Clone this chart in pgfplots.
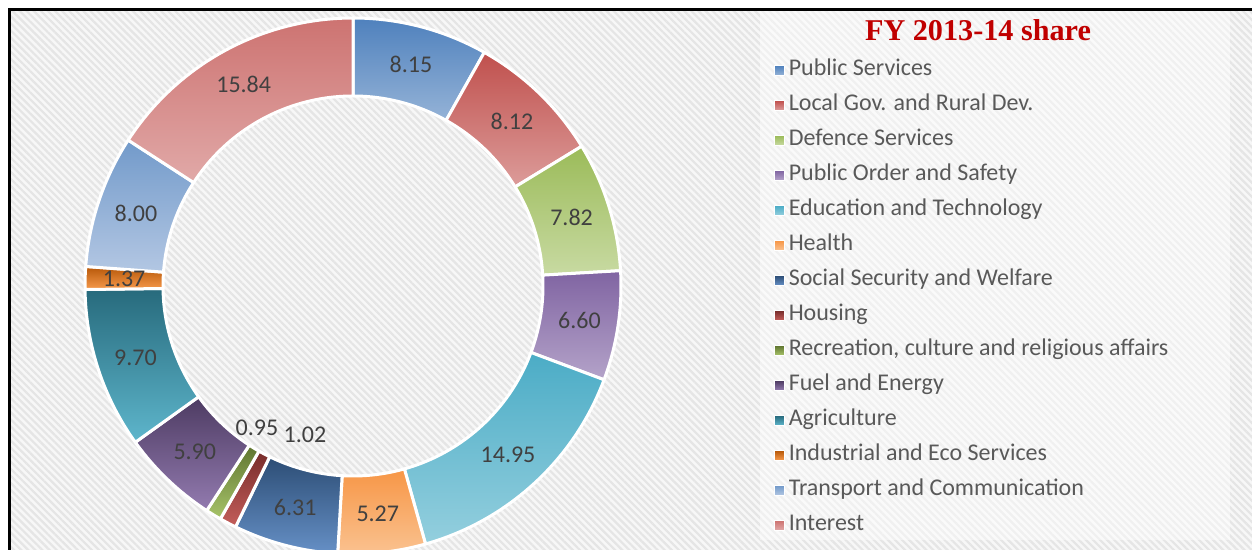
\documentclass[border=0pt]{standalone}
\usepackage{fontspec}
\setmainfont{Carlito}
\newfontfamily\titlefont{Liberation Serif}
\usepackage{pgfplots}
\pgfplotsset{compat=1.18}
\usepackage{pgfplotstable}
\usetikzlibrary{patterns.meta}

% colours: top (ct) and bottom (cb) of each slice gradient
\definecolor{ct0}{HTML}{4F81BD}\definecolor{cb0}{HTML}{95B3D7}
\definecolor{ct1}{HTML}{C0504D}\definecolor{cb1}{HTML}{DC9C9A}
\definecolor{ct2}{HTML}{9BBB59}\definecolor{cb2}{HTML}{C8DAA2}
\definecolor{ct3}{HTML}{8064A2}\definecolor{cb3}{HTML}{B4A3C9}
\definecolor{ct4}{HTML}{4BACC6}\definecolor{cb4}{HTML}{94CFDE}
\definecolor{ct5}{HTML}{F79646}\definecolor{cb5}{HTML}{FAC290}
\definecolor{ct6}{HTML}{2C4D75}\definecolor{cb6}{HTML}{6690C6}
\definecolor{ct7}{HTML}{772C2A}\definecolor{cb7}{HTML}{C45E5B}
\definecolor{ct8}{HTML}{5F7530}\definecolor{cb8}{HTML}{A8C46A}
\definecolor{ct9}{HTML}{4D3B62}\definecolor{cb9}{HTML}{937BB0}
\definecolor{ct10}{HTML}{276A7C}\definecolor{cb10}{HTML}{5EB6CC}
\definecolor{ct11}{HTML}{B65708}\definecolor{cb11}{HTML}{F79A4C}
\definecolor{ct12}{HTML}{729ACA}\definecolor{cb12}{HTML}{B3C7E3}
\definecolor{ct13}{HTML}{CD7371}\definecolor{cb13}{HTML}{E1A9A8}
\definecolor{labgray}{HTML}{404040}
\definecolor{leggray}{HTML}{595959}
\definecolor{titlered}{HTML}{C00000}

\pgfplotstableread[col sep=semicolon]{
name;value;labr;labshift
Public Services;8.15;229;0
Local Gov. and Rural Dev.;8.12;229;0
Defence Services;7.82;229;0
Public Order and Safety;6.60;229;0
Education and Technology;14.95;229;0
Health;5.27;229;0
Social Security and Welfare;6.31;229;0
Housing;1.02;156;9.9
Recreation, culture and religious affairs;0.95;171;-2.8
Fuel and Energy;5.90;229;0
Agriculture;9.70;229;0
Industrial and Eco Services;1.37;229;0
Transport and Communication;8.00;229;0
Interest;15.84;229;0
}\budget

% start / end angles of each slice from the cumulative shares (clockwise from 12 o'clock)
\xdef\cumsum{0}
\pgfplotsforeachungrouped \i in {0,...,13}{%
  \pgfplotstablegetelem{\i}{value}\of\budget \let\v\pgfplotsretval
  \expandafter\xdef\csname vs\i\endcsname{\v}%
  \pgfplotstablegetelem{\i}{name}\of\budget
  \expandafter\xdef\csname nm\i\endcsname{\pgfplotsretval}%
  \pgfplotstablegetelem{\i}{labr}\of\budget
  \expandafter\xdef\csname lr\i\endcsname{\pgfplotsretval}%
  \pgfplotstablegetelem{\i}{labshift}\of\budget
  \expandafter\xdef\csname ls\i\endcsname{\pgfplotsretval}%
  \pgfmathsetmacro\aS{90-3.6*\cumsum}%
  \pgfmathsetmacro\newcum{\cumsum+\v}%
  \pgfmathsetmacro\aE{90-3.6*\newcum}%
  \expandafter\xdef\csname aS\i\endcsname{\aS}%
  \expandafter\xdef\csname aE\i\endcsname{\aE}%
  \xdef\cumsum{\newcum}%
}

\pgfmathdeclarefunction{cl}{1}{\pgfmathparse{min(max(#1,0),1)}}

\begin{document}
\begin{tikzpicture}
\begin{axis}[
  at={(0,0)}, anchor=south west,
  scale only axis, width=626pt, height=275pt,
  xmin=0, xmax=1252, ymin=0, ymax=550,
  hide axis, clip=true,
  legend style={at={(0.6134,0.898)}, anchor=north west, draw=none, fill=none,
    font=\fontsize{12}{14}\selectfont, text=leggray,
    row sep=7.5pt, nodes={inner ysep=0pt, text height=7.5pt, text depth=2.5pt}},
  legend cell align=left,
]
% background
\fill[white] (axis cs:0,0) rectangle (axis cs:1252,550);
\fill[black!3] (axis cs:10,0) rectangle (axis cs:1252,540);
\fill[pattern={Lines[angle=-45,distance=2.5pt,line width=1.1pt]}, pattern color=black!10]
  (axis cs:10,0) rectangle (axis cs:1252,540);
\fill[white, opacity=0.45] (axis cs:760,10) rectangle (axis cs:1230,539);
\draw[black, line width=1.4pt] (axis cs:9.7,0) -- (axis cs:9.7,540.3) -- (axis cs:1252,540.3);

% slices
\pgfplotsinvokeforeach{0,...,13}{%
  \addplot[draw=white, line width=1.5pt, line join=round,
    top color=ct#1, bottom color=cb#1,
    domain=0:4, samples=161, variable=\t,
    legend image code/.code={\path[draw=white,line width=0.4pt,top color=ct#1,bottom color=cb#1] (0pt,-2.4pt) rectangle (4.8pt,2.4pt);}]
   ({353 + (268 - 78*cl(\t-1) + 78*cl(\t-3))*cos(\csname aS#1\endcsname + (\csname aE#1\endcsname-\csname aS#1\endcsname)*cl(\t) - (\csname aE#1\endcsname-\csname aS#1\endcsname)*cl(\t-2))},
    {264 + (268 - 78*cl(\t-1) + 78*cl(\t-3))*sin(\csname aS#1\endcsname + (\csname aE#1\endcsname-\csname aS#1\endcsname)*cl(\t) - (\csname aE#1\endcsname-\csname aS#1\endcsname)*cl(\t-2))});
  \addlegendentry{\csname nm#1\endcsname}
}
% value labels
\pgfplotsinvokeforeach{0,...,13}{%
  \addplot[forget plot, draw=none, mark=none, samples at={0}, variable=\t,
    nodes near coords={\csname vs#1\endcsname},
    nodes near coords align=center,
    every node near coord/.append style={anchor=center, text=labgray, font=\fontsize{12}{14}\selectfont, inner sep=0pt}]
   ({353 + \csname lr#1\endcsname*cos((\csname aS#1\endcsname+\csname aE#1\endcsname)/2 + \csname ls#1\endcsname)},
    {264 + \csname lr#1\endcsname*sin((\csname aS#1\endcsname+\csname aE#1\endcsname)/2 + \csname ls#1\endcsname)});
}
\node[text=titlered, font=\titlefont\bfseries\fontsize{15.1}{17}\selectfont] at (axis cs:978,520) {FY 2013-14 share};
\end{axis}
\pgfresetboundingbox
\path (0,0) rectangle (626pt,275pt);
\end{tikzpicture}
\end{document}
